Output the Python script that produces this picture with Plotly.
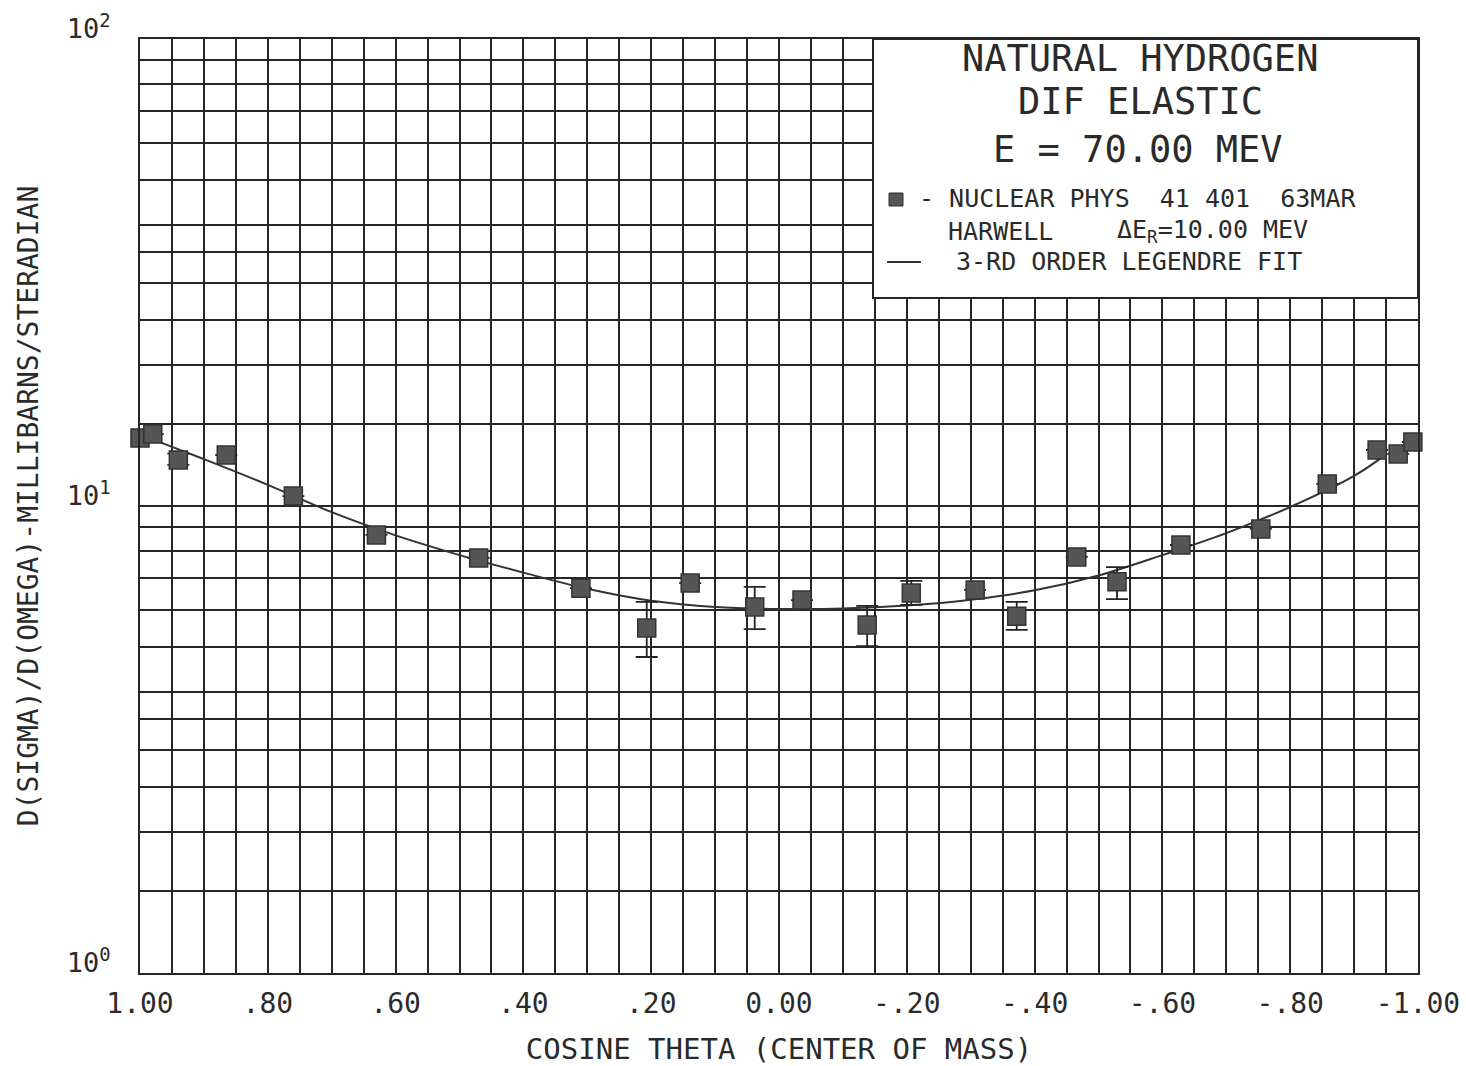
import plotly.graph_objects as go

# ---------------- data ----------------
cos_theta = [1.00, 0.98, 0.94, 0.865, 0.76, 0.63, 0.47, 0.31, 0.207, 0.139, 0.038,
             -0.036, -0.138, -0.207, -0.307, -0.372, -0.466, -0.529, -0.629, -0.754,
             -0.858, -0.936, -0.969, -0.992]
dsigma = [13.99, 14.26, 12.55, 12.86, 10.5, 8.67, 7.74, 6.67, 5.48, 6.84, 6.08,
          6.29, 5.56, 6.51, 6.61, 5.81, 7.78, 6.88, 8.25, 8.93,
          11.15, 13.18, 12.93, 13.71]
err_plus = [0, 0, 0.4, 0, 0, 0, 0, 0, 0.75, 0, 0.63,
            0, 0.55, 0.4, 0, 0.42, 0, 0.52, 0, 0,
            0, 0, 0, 0]
err_minus = [0, 0, 0.3, 0, 0, 0, 0, 0, 0.73, 0, 0.63,
             0, 0.55, 0.37, 0, 0.38, 0, 0.56, 0, 0,
             0, 0, 0, 0]

fit_cos = [0.98, 0.96, 0.90, 0.80, 0.70, 0.60, 0.50, 0.40, 0.30, 0.20, 0.10, 0.00,
           -0.10, -0.20, -0.30, -0.40, -0.50, -0.60, -0.70, -0.80, -0.90, -0.95]
fit_val = [13.9, 13.55, 12.6, 11.1, 9.7, 8.65, 7.85, 7.2, 6.65, 6.27, 6.08, 6.02,
           6.03, 6.12, 6.3, 6.6, 7.1, 7.85, 8.75, 9.95, 11.6, 12.9]

x_tickvals = [1.0, 0.8, 0.6, 0.4, 0.2, 0.0, -0.2, -0.4, -0.6, -0.8, -1.0]
x_ticktext = ["1.00", ".80", ".60", ".40", ".20", "0.00", "-.20", "-.40", "-.60", "-.80", "-1.00"]
y_tickvals = [1, 10, 100]
y_ticktext = ["10<sup>0</sup>", "10<sup>1</sup>", "10<sup>2</sup>"]
y_minor = [1.5, 2, 2.5, 3, 3.5, 4, 5, 6, 7, 8, 9,
           15, 20, 25, 30, 35, 40, 50, 60, 70, 80, 90]

FONT = "DejaVu Sans Mono"
INK = "#2a2a2a"
GRID = "#262626"

# ---------------- figure ----------------
W, H = 1466, 1066
L, R, T, B = 140, 48, 39, 93

fig = go.Figure()

fig.add_trace(go.Scatter(
    x=fit_cos, y=fit_val, mode="lines",
    line=dict(color="#333333", width=2, shape="spline", smoothing=1.0),
    hoverinfo="skip", showlegend=False,
))

fig.add_trace(go.Scatter(
    x=cos_theta, y=dsigma, mode="markers", cliponaxis=False,
    marker=dict(symbol="square", size=18, color="#555555",
                line=dict(color="#333333", width=1.5)),
    error_y=dict(type="data", symmetric=False, array=err_plus, arrayminus=err_minus,
                 color="#222222", thickness=1.8, width=11),
    showlegend=False,
))

# helpers for pixel -> paper conversion of the legend box contents
pw, ph = W - L - R, H - T - B


def px(x):
    return (x - L) / pw


def py(y):
    return (H - B - y) / ph


fig.update_layout(
    width=W, height=H,
    margin=dict(l=L, r=R, t=T, b=B, autoexpand=False),
    paper_bgcolor="white", plot_bgcolor="white",
    font=dict(family=FONT, color=INK),
    xaxis=dict(
        range=[1, -1], automargin=False,
        tickmode="array", tickvals=x_tickvals, ticktext=x_ticktext,
        tickfont=dict(size=28, family=FONT, color=INK),
        ticks="", ticklabelstandoff=4,
        showgrid=True, gridcolor=GRID, gridwidth=2,
        minor=dict(dtick=0.05, tick0=0, showgrid=True, gridcolor=GRID, gridwidth=2, ticks=""),
        showline=True, linecolor=GRID, linewidth=2, mirror=True,
        zeroline=False,
        title=dict(text="COSINE THETA (CENTER OF MASS)",
                   font=dict(size=29, family=FONT, color=INK), standoff=22),
    ),
    yaxis=dict(
        type="log", range=[0, 2], automargin=False,
        tickmode="array", tickvals=y_tickvals, ticktext=y_ticktext,
        tickfont=dict(size=27, family=FONT, color=INK),
        ticks="", ticklabelstandoff=22, ticklabelshift=-10,
        showgrid=True, gridcolor=GRID, gridwidth=2,
        minor=dict(tickmode="array", tickvals=y_minor, showgrid=True,
                   gridcolor=GRID, gridwidth=2, ticks=""),
        showline=True, linecolor=GRID, linewidth=2, mirror=True,
        zeroline=False,
        title=dict(text="D(SIGMA)/D(OMEGA)-MILLIBARNS/STERADIAN",
                   font=dict(size=28, family=FONT, color=INK), standoff=20),
    ),
    showlegend=False,
)

# legend / title box
fig.add_shape(type="rect", xref="paper", yref="paper",
              x0=px(873), x1=1.0, y0=py(298), y1=1.0,
              fillcolor="white", line=dict(color=GRID, width=2), layer="above")
fig.add_shape(type="rect", xref="paper", yref="paper",
              x0=px(889), x1=px(903), y0=py(206), y1=py(193),
              fillcolor="#555555", line=dict(color="#333333", width=1), layer="above")
fig.add_shape(type="line", xref="paper", yref="paper",
              x0=px(887), x1=px(921), y0=py(262), y1=py(262),
              line=dict(color="#333333", width=2), layer="above")


def label(text, x, y, size, anchor="center"):
    fig.add_annotation(text=text, xref="paper", yref="paper", x=px(x), y=py(y),
                       xanchor=anchor, yanchor="middle", showarrow=False,
                       font=dict(family=FONT, size=size, color=INK))


label("NATURAL HYDROGEN", 1140, 58, 37)
label("DIF ELASTIC", 1140, 102, 37)
label("E = 70.00 MEV", 1138, 149, 37)
label("- NUCLEAR PHYS  41 401  63MAR", 917, 199, 25, "left")
label("HARWELL", 946, 231, 25, "left")
label("\u0394E<sub>R</sub>=10.00 MEV", 1115, 231, 25, "left")
label("3-RD ORDER LEGENDRE FIT", 954, 261, 25, "left")

fig.write_html("out.html")
